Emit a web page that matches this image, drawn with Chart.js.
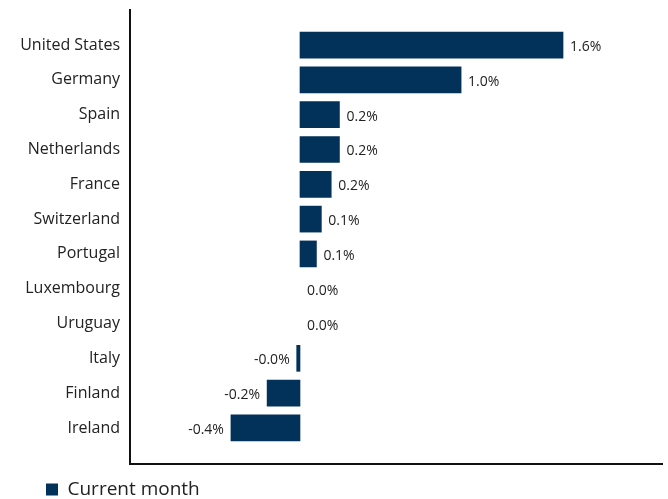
<!DOCTYPE html>
<html>
<head>
<meta charset="utf-8">
<script src="https://cdn.jsdelivr.net/npm/chart.js@4"></script>
<style>
  html, body { margin: 0; padding: 0; background: #fff; }
  #wrap { width: 668px; height: 499px; position: relative; }
</style>
</head>
<body>
<div id="wrap"><canvas id="chart"></canvas></div>
<script>
// Country contributions, current month (%)
var countries = ['United States', 'Germany', 'Spain', 'Netherlands', 'France', 'Switzerland',
    'Portugal', 'Luxembourg', 'Uruguay', 'Italy', 'Finland', 'Ireland'];
var currentMonth = [1.60, 0.98, 0.24, 0.24, 0.19, 0.13, 0.10, 0.00, 0.00, -0.02, -0.20, -0.42];
var seriesLabel = 'Current month';

var barColor = '#02315a';
var textColor = '#222222';

// Value labels at the end of each bar
var valueLabels = {
    id: 'valueLabels',
    afterDatasetsDraw: function(chart) {
        var ctx = chart.ctx;
        var meta = chart.getDatasetMeta(0);
        ctx.save();
        ctx.font = '14px "Open Sans", sans-serif';
        ctx.fillStyle = textColor;
        ctx.textBaseline = 'middle';
        meta.data.forEach(function(bar, i) {
            var v = currentMonth[i];
            var txt = v.toFixed(1) + '%';
            if (v < 0) {
                ctx.textAlign = 'right';
                ctx.fillText(txt, bar.x - 7, bar.y + 2);
            } else {
                ctx.textAlign = 'left';
                ctx.fillText(txt, bar.x + 7, bar.y + 2);
            }
        });
        ctx.restore();
    }
};

// Push the legend in from the left edge and down a little
var legendShift = {
    id: 'legendShift',
    afterLayout: function(chart) {
        if (chart.legend) {
            chart.legend.left += 46;
            chart.legend.top += 11;
        }
    }
};

new Chart(document.getElementById('chart'), {
    type: 'bar',
    data: {
        datasets: [{
            label: seriesLabel,
            data: currentMonth.map(function(v, i) { return {x: v, y: i}; }),
            backgroundColor: function(c) {
                return currentMonth[c.dataIndex] === 0 ? 'rgba(0,0,0,0)' : barColor;
            },
            borderWidth: 0,
            barThickness: 26
        }]
    },
    options: {
        indexAxis: 'y',
        responsive: true,
        maintainAspectRatio: false,
        animation: false,
        layout: {padding: {left: 0, top: 10, right: 6, bottom: 1}},
        scales: {
            x: {
                type: 'linear',
                bounds: 'data',
                min: -1.034,
                max: 2.202,
                grid: {display: false},
                border: {display: true, color: '#111', width: 2},
                ticks: {display: false},
                afterFit: function(scale) {
                    scale.height = 5;
                }
            },
            y: {
                type: 'linear',
                bounds: 'data',
                offset: false,
                reverse: true,
                min: -1.008,
                max: 12.036,
                grid: {display: false},
                border: {display: true, color: '#111', width: 2},
                afterBuildTicks: function(scale) {
                    scale.ticks = countries.map(function(c, i) { return {value: i}; });
                },
                afterFit: function(scale) {
                    scale.width = 130;
                    scale.paddingTop = 0;
                    scale.paddingBottom = 0;
                },
                ticks: {
                    padding: 2,
                    color: textColor,
                    font: {family: '"Open Sans", sans-serif', size: 16},
                    callback: function(value) {
                        return countries[value] || '';
                    }
                }
            }
        },
        plugins: {
            legend: {
                display: true,
                position: 'bottom',
                align: 'start',
                labels: {
                    boxWidth: 12,
                    boxHeight: 12,
                    padding: 0,
                    color: textColor,
                    font: {family: '"Open Sans", sans-serif', size: 19}
                }
            },
            tooltip: {enabled: false}
        }
    },
    plugins: [valueLabels, legendShift]
});
</script>
</body>
</html>
